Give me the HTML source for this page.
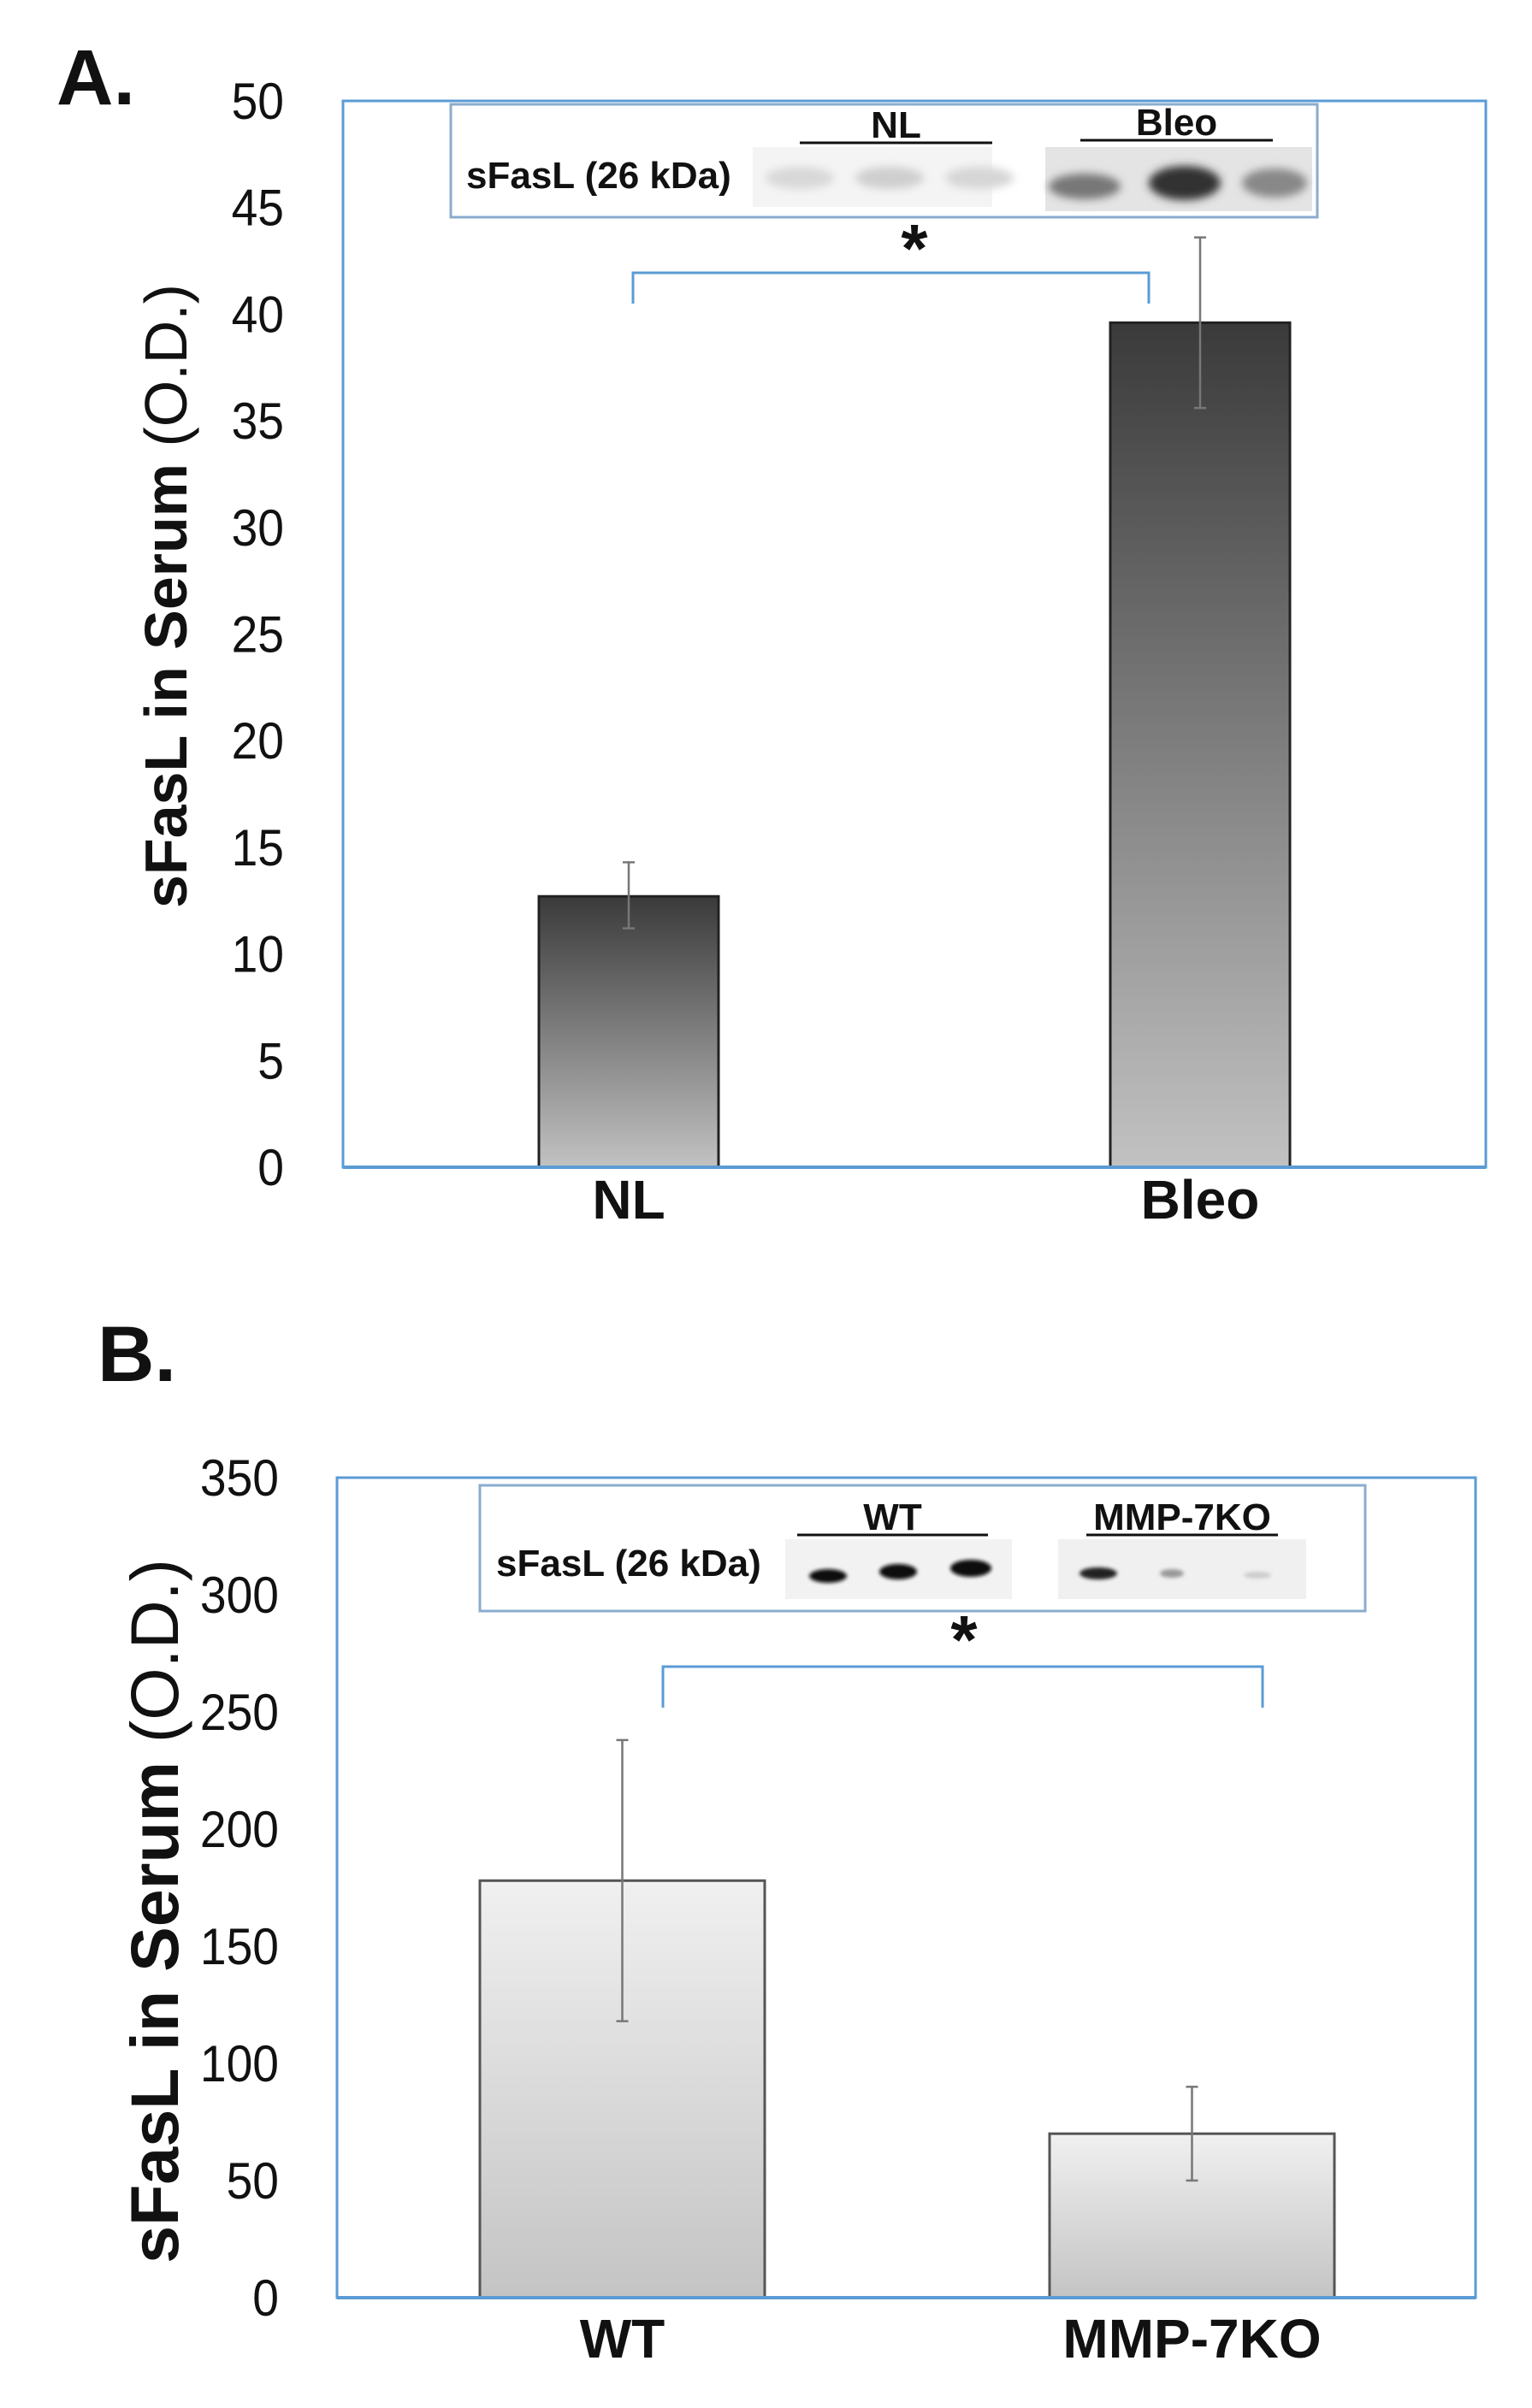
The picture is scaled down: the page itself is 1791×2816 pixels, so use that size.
<!DOCTYPE html>
<html><head><meta charset="utf-8"><style>
html,body{margin:0;padding:0;background:#fff;}
svg text{font-family:"Liberation Sans",sans-serif;}
</style></head><body>
<svg id="fig" width="1791" height="2811" viewBox="0 0 1791 2811" xmlns="http://www.w3.org/2000/svg">
<defs>
<linearGradient id="gA" x1="0" y1="0" x2="0" y2="1"><stop offset="0" stop-color="#3a3a3a"/><stop offset="1" stop-color="#c2c2c2"/></linearGradient>
<linearGradient id="gB" x1="0" y1="0" x2="0" y2="1"><stop offset="0" stop-color="#f0f0f0"/><stop offset="1" stop-color="#c4c4c4"/></linearGradient>
<filter id="bl" x="-50%" y="-50%" width="200%" height="200%"><feGaussianBlur stdDeviation="5"/></filter>
<filter id="bl2" x="-50%" y="-50%" width="200%" height="200%"><feGaussianBlur stdDeviation="2"/></filter>
</defs>
<g id="panelA"></g>
<g id="panelB"></g>
</svg>
<script>
const catsA = ["NL","Bleo"];
const valsA = [12.7, 39.6];
const errLoA = [11.2, 35.6];
const errHiA = [14.3, 43.6];
const ticksA = [0,5,10,15,20,25,30,35,40,45,50];
const catsB = ["WT","MMP-7KO"];
const valsB = [178, 70];
const errLoB = [118, 50];
const errHiB = [238, 90];
const ticksB = [0,50,100,150,200,250,300,350];
const NS="http://www.w3.org/2000/svg";
function mk(p,t,a,txt){const e=document.createElementNS(NS,t);for(const k in a)e.setAttribute(k,a[k]);if(txt!==undefined)e.textContent=txt;p.appendChild(e);return e;}

function panel(g,cfg){
  const {x0,x1,y0,y1,max,ticks,cats,vals,lo,hi,barX,barW,grad,barStroke,tickX,tickSize,label,labelX,labelY,titleX,titleY,titleSize,inset,bracket,star,catY}=cfg;
  const ys=v=>y0-(v/max)*(y0-y1);
  const pl=mk(g,'text',{x:labelX,y:labelY,'font-size':92,'font-weight':'bold',fill:'#111'},label);
  
  
  const box=mk(g,'rect',{x:x0,y:y1,width:x1-x0,height:y0-y1,fill:'none',stroke:'#5b9bd5','stroke-width':3});
  
  
  ticks.forEach(t=>{
    const e=mk(g,'text',{x:tickX,y:ys(t)+21,'font-size':tickSize,'text-anchor':'end',fill:'#111',transform:`translate(${tickX},0) scale(0.92,1) translate(${-tickX},0)`},String(t));
    
    
  });
  const yt=mk(g,'text',{transform:`translate(${titleX},${titleY}) rotate(-90)`,'text-anchor':'middle','font-size':titleSize,fill:'#111'});
  
  
  mk(yt,'tspan',{'font-weight':'bold'},'sFasL in Serum ');
  mk(yt,'tspan',{'font-weight':'normal'},'(O.D.)');
  cats.forEach((c,i)=>{
    const bx=barX[i], top=ys(vals[i]);
    const b=mk(g,'rect',{x:bx,y:top,width:barW,height:y0-top,fill:`url(#${grad})`,stroke:barStroke,'stroke-width':3});
    
    
    const cx=bx+barW/2;
    const eb=mk(g,'path',{d:`M${cx},${ys(lo[i])}V${ys(hi[i])}M${cx-7},${ys(lo[i])}H${cx+7}M${cx-7},${ys(hi[i])}H${cx+7}`,stroke:'#777','stroke-width':2.5,fill:'none'});
    
    
    const xl=mk(g,'text',{x:cx,y:catY,'font-size':64,'font-weight':'bold','text-anchor':'middle',fill:'#111'},c);
    
    
  });
  mk(g,'line',{x1:x0,y1:y0,x2:x1,y2:y0,stroke:'#5b9bd5','stroke-width':4});
  const br=mk(g,'path',{d:`M${bracket[0]},${bracket[3]}V${bracket[2]}H${bracket[1]}V${bracket[3]}`,stroke:'#5b9bd5','stroke-width':3,fill:'none'});
  
  
  const st=mk(g,'text',{x:star[0],y:star[1],'font-size':80,'font-weight':'bold','text-anchor':'middle',fill:'#111'},'*');
  
  
  const ig=mk(g,'g',{});
  
  
  mk(ig,'rect',{x:inset.x,y:inset.y,width:inset.w,height:inset.h,fill:'#fff',stroke:'#8aaccd','stroke-width':3});
  mk(ig,'text',{x:inset.lx,y:inset.ly,'font-size':44,'font-weight':'bold',fill:'#111'},'sFasL (26 kDa)');
  inset.groups.forEach(gr=>{
    mk(ig,'rect',{x:gr.x,y:gr.by,width:gr.w,height:gr.bh,fill:gr.bg});
    mk(ig,'line',{x1:gr.lx1,y1:gr.ly,x2:gr.lx2,y2:gr.ly,stroke:'#111','stroke-width':3});
    mk(ig,'text',{x:(gr.lx1+gr.lx2)/2,y:gr.ly-6,'font-size':44,'font-weight':'bold','text-anchor':'middle',fill:'#111'},gr.name);
    gr.bands.forEach(bd=>mk(ig,'ellipse',{cx:bd[0],cy:bd[1],rx:bd[2],ry:bd[3],fill:bd[4],filter:`url(#${gr.f})`}));
  });
}
panel(document.getElementById('panelA'),{x0:401,x1:1737,y0:1365,y1:118,max:50,ticks:ticksA,cats:catsA,vals:valsA,lo:errLoA,hi:errHiA,
  barX:[630,1298],barW:210,grad:'gA',barStroke:'#222',tickX:332,tickSize:60,label:'A.',labelX:66,labelY:122,titleX:218,titleY:697,titleSize:70,catY:1425,
  bracket:[740,1343,319,355],star:[1069,318],
  inset:{x:527,y:122,w:1013,h:132,lx:545,ly:220,groups:[
   {name:'NL',x:880,w:280,by:172,bh:70,bg:'#f4f4f4',lx1:935,lx2:1160,ly:167,f:'bl',bands:[[935,208,40,13,'#d8d8d8'],[1040,208,40,13,'#cfcfcf'],[1145,208,40,13,'#d6d6d6']]},
   {name:'Bleo',x:1222,w:312,by:172,bh:75,bg:'#e4e4e4',lx1:1263,lx2:1488,ly:164,f:'bl',bands:[[1268,218,42,15,'#777'],[1385,214,42,20,'#333'],[1490,214,38,17,'#888']]}]}
});
panel(document.getElementById('panelB'),{x0:394,x1:1725,y0:2687,y1:1728,max:350,ticks:ticksB,cats:catsB,vals:valsB,lo:errLoB,hi:errHiB,
  barX:[561,1227],barW:333,grad:'gB',barStroke:'#555',tickX:326,tickSize:60,label:'B.',labelX:114,labelY:1615,titleX:208,titleY:2235,titleSize:79,catY:2757,
  bracket:[775,1476,1949,1997],star:[1127,1945],
  inset:{x:561,y:1737,w:1035,h:147,lx:580,ly:1843,groups:[
   {name:'WT',x:918,w:265,by:1800,bh:70,bg:'#f2f2f2',lx1:932,lx2:1155,ly:1795,f:'bl2',bands:[[968,1843,22,8,'#111'],[1050,1838,22,9,'#111'],[1135,1834,24,10,'#111']]},
   {name:'MMP-7KO',x:1237,w:290,by:1800,bh:70,bg:'#f0f0f0',lx1:1270,lx2:1494,ly:1795,f:'bl2',bands:[[1284,1840,22,7,'#222'],[1370,1840,14,5,'#999'],[1470,1842,16,4,'#ccc']]}]}
});
</script>
</body></html>
